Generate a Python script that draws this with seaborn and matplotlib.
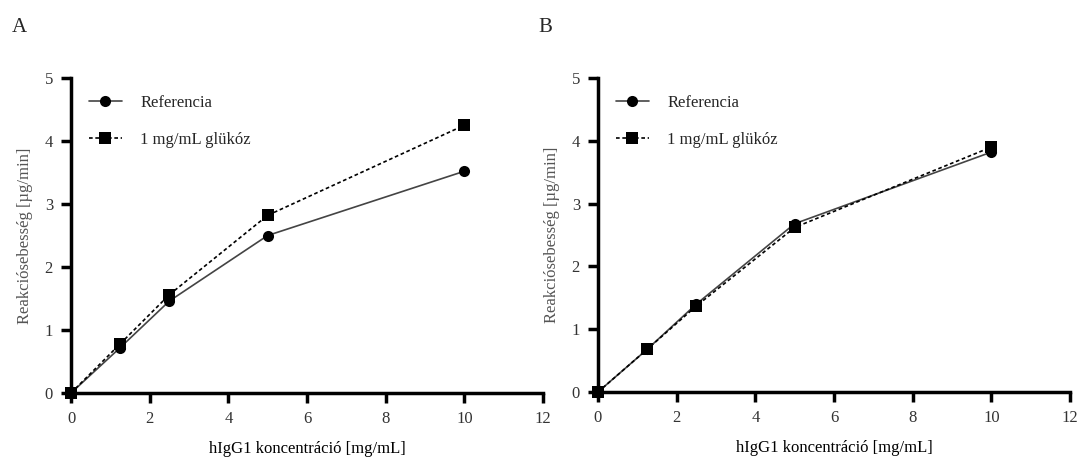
import matplotlib
matplotlib.use("Agg")
import matplotlib.pyplot as plt
import seaborn as sns
import pandas as pd

conc = [0, 1.25, 2.5, 5, 10]
a_ref = [0, 0.72, 1.46, 2.50, 3.52]
a_glu = [0, 0.78, 1.56, 2.82, 4.25]
b_ref = [0, 0.68, 1.40, 2.68, 3.82]
b_glu = [0, 0.68, 1.37, 2.62, 3.90]
series = ["Referencia", "1 mg/mL glükóz"]
xticks = [0, 2, 4, 6, 8, 10, 12]
yticks = [0, 1, 2, 3, 4, 5]
xlabel = "hIgG1 koncentráció [mg/mL]"
ylabel = "Reakciósebesség [µg/min]"

sns.set_style("ticks")
plt.rcParams["font.family"] = ["Liberation Serif", "DejaVu Serif"]

fig = plt.figure(figsize=(10.78, 4.59), dpi=100)
axA = fig.add_axes([71/1078, 1-393/459, 472/1078, 315/459])
axB = fig.add_axes([598/1078, 1-392/459, 472/1078, 314/459])

def make_df(ref, glu):
    return pd.DataFrame({
        "x": conc * 2,
        "y": ref + glu,
        "s": [series[0]] * len(conc) + [series[1]] * len(conc),
    })

for ax, (ref, glu), lab in [(axA, (a_ref, a_glu), "A"), (axB, (b_ref, b_glu), "B")]:
    df = make_df(ref, glu)
    sns.lineplot(data=df, x="x", y="y", hue="s", style="s", ax=ax,
                 palette={series[0]: "#444444", series[1]: "#000000"},
                 markers={series[0]: "o", series[1]: "s"},
                 dashes={series[0]: "", series[1]: (2.2, 1.6)},
                 markersize=8, markeredgewidth=0, linewidth=1.2,
                 clip_on=False, zorder=5)
    for ln in ax.lines:
        ln.set_markerfacecolor("black")
        ln.set_markeredgecolor("black")
    ax.set_xlim(0, 12)
    ax.set_ylim(0, 5)
    ax.set_xticks(xticks)
    ax.set_yticks(yticks)
    for s in ["top", "right"]:
        ax.spines[s].set_visible(False)
    for s in ["left", "bottom"]:
        ax.spines[s].set_linewidth(2.5)
        ax.spines[s].set_color("black")
    ax.tick_params(direction="out", length=7, width=2.5, colors="black",
                   labelsize=12, labelcolor="#333333", pad=6)
    ax.set_xlabel(xlabel, fontsize=12, color="black", labelpad=10)
    ax.set_ylabel(ylabel, fontsize=12, color="#555555", labelpad=8)
    leg = ax.legend(loc="upper left", frameon=False, fontsize=12,
                    bbox_to_anchor=(0.006, 0.995), handlelength=2.0,
                    handletextpad=1.1, labelspacing=1.3)
    for h in leg.legend_handles:
        h.set_markerfacecolor("black")
        h.set_markeredgecolor("black")
    fig.text(ax.get_position().x0 - 0.055, 0.94, lab, fontsize=15,
             ha="left", va="center")

fig.savefig("out.png", dpi=100)
